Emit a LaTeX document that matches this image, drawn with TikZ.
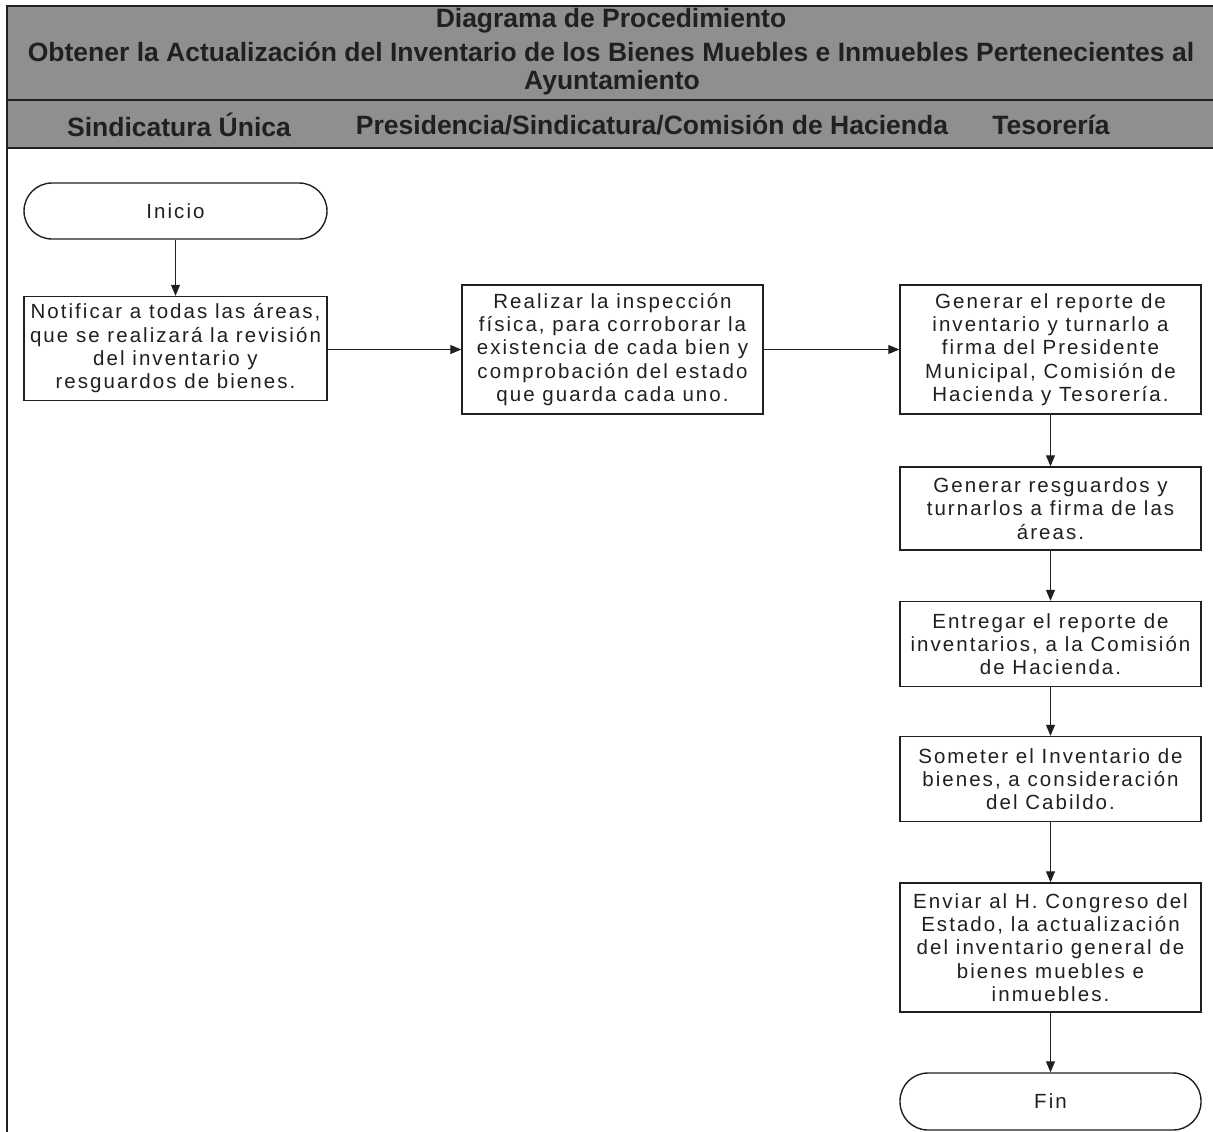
\documentclass[tikz,border=0pt]{standalone}
\usepackage{fontspec}
\setmainfont{Liberation Sans}
\newfontfamily\bodyfont[LetterSpace=10]{Liberation Sans}
\newfontfamily\headfont{Liberation Sans Bold}
\usetikzlibrary{arrows.meta}
\definecolor{ink}{HTML}{231F20}
\definecolor{band}{HTML}{8E8F91}
\tikzset{
  stepbox/.style={draw=ink, line width=1.4pt, fill=white, text=ink, align=center,
    inner sep=0pt, font=\bodyfont\fontsize{20.5}{23.3}\selectfont, minimum width=301pt},
  termbox/.style={stepbox, rounded corners=28pt},
  arr/.style={draw=ink, line width=1pt, -{Triangle[length=11pt,width=9pt]}},
  headtxt/.style={text=ink, font=\headfont\fontsize{26.5}{32}\selectfont, inner sep=0pt, anchor=center},
}
\begin{document}
\begin{tikzpicture}[x=1pt,y=-1pt]
\useasboundingbox (0,0) rectangle (1213,1132);
% header band
\fill[band] (7,6) rectangle (1215,148);
\draw[ink, line width=2pt] (7,6) -- (1215,6);
\draw[ink, line width=2pt] (7,100) -- (1215,100);
\draw[ink, line width=2.5pt] (7,148) -- (1215,148);
\draw[ink, line width=2.5pt] (7,5) -- (7,1132);
\node[headtxt] (t1) at (611,21) {Diagrama de Procedimiento};
\node[headtxt] (t2) at (611,52) {Obtener la Actualización del Inventario de los Bienes Muebles e Inmuebles Pertenecientes al};
\node[headtxt] (t3) at (612,83) {Ayuntamiento};
\node[headtxt] (l1) at (179,125) {Sindicatura Única};
\node[headtxt] (l2) at (652,125) {Presidencia/Sindicatura/Comisión de Hacienda};
\node[headtxt] (l3) at (1051,125) {Tesorería};
% nodes
\node[termbox, minimum width=303pt, minimum height=56pt] (inicio) at (175.5,211) {Inicio};
\node[stepbox, minimum width=303pt, minimum height=104pt] (notif) at (175.5,348.5)
  {Notificar a todas las áreas,\\que se realizará la revisión\\del inventario y\\resguardos de bienes.};
\node[stepbox, minimum height=129pt] (realizar) at (612.5,349.5)
  {Realizar la inspección\\física, para corroborar la\\existencia de cada bien y\\comprobación del estado\\que guarda cada uno.};
\node[stepbox, minimum height=129pt] (gen1) at (1050.5,349.5)
  {Generar el reporte de\\inventario y turnarlo a\\firma del Presidente\\Municipal, Comisión de\\Hacienda y Tesorería.};
\node[stepbox, minimum height=83pt] (gen2) at (1050.5,508.5)
  {Generar resguardos y\\turnarlos a firma de las\\áreas.};
\node[stepbox, minimum height=85pt] (entregar) at (1050.5,644)
  {Entregar el reporte de\\inventarios, a la Comisión\\de Hacienda.};
\node[stepbox, minimum height=85pt] (someter) at (1050.5,779)
  {Someter el Inventario de\\bienes, a consideración\\del Cabildo.};
\node[stepbox, minimum height=129pt] (enviar) at (1050.5,947.5)
  {Enviar al H. Congreso del\\Estado, la actualización\\del inventario general de\\bienes muebles e\\inmuebles.};
\node[termbox, minimum height=57pt] (fin) at (1050.5,1101.5) {Fin};
% connectors
\draw[arr] (inicio) -- (notif);
\draw[arr] (realizar.west -| notif.east) -- (realizar.west);
\draw[arr] (realizar) -- (gen1);
\draw[arr] (gen1) -- (gen2);
\draw[arr] (gen2) -- (entregar);
\draw[arr] (entregar) -- (someter);
\draw[arr] (someter) -- (enviar);
\draw[arr] (enviar) -- (fin);
\end{tikzpicture}
\end{document}
